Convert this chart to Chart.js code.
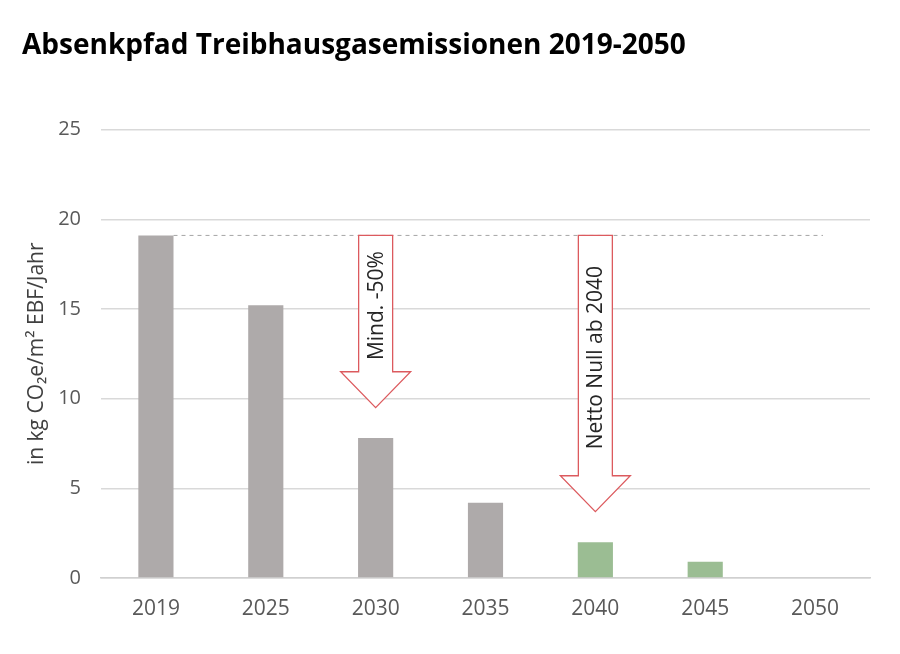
<!DOCTYPE html>
<html>
<head>
<meta charset="utf-8">
<script src="https://cdn.jsdelivr.net/npm/chart.js@4"></script>
<style>
  html, body { margin: 0; padding: 0; background: #fff; }
  #wrap { width: 900px; height: 654px; }
</style>
</head>
<body>
<div id="wrap"><canvas id="emissionsChart"></canvas></div>
<script>
// chart data
const years = ['2019', '2025', '2030', '2035', '2040', '2045', '2050'];
const emissions = [19.1, 15.2, 7.8, 4.2, 2.0, 0.9, 0];
const yTicks = [0, 5, 10, 15, 20, 25];
const baselineValue = 19.1;

// arrows: category, top, head start, tip, label
const arrowYears = ['2030', '2040'];
const arrowTops = [19.1, 19.1];
const arrowHeads = [11.5, 5.7];
const arrowTips = [9.5, 3.7];
const arrowLabels = ['Mind. -50%', 'Netto Null ab 2040'];

const GRAY = '#aeaaaa';
const GREEN = '#9bbd93';
const FONT = '"Open Sans", sans-serif';

const annotations = {
    id: 'annotations',
    afterDatasetsDraw(chart) {
        const { ctx, scales: { x, y } } = chart;
        const meta = chart.getDatasetMeta(0);
        ctx.save();

        // dashed baseline from first bar to end
        const firstBar = meta.data[0];
        ctx.strokeStyle = '#a6a6a6';
        ctx.lineWidth = 1;
        ctx.setLineDash([4, 4]);
        ctx.beginPath();
        ctx.moveTo(firstBar.x + firstBar.width / 2, y.getPixelForValue(baselineValue));
        ctx.lineTo(x.right - 47, y.getPixelForValue(baselineValue));
        ctx.stroke();
        ctx.setLineDash([]);

        // outlined arrows with vertical text
        arrowYears.forEach((yr, i) => {
            const cx = x.getPixelForValue(years.indexOf(yr));
            const shaft = 17;
            const head = 35;
            const top = y.getPixelForValue(arrowTops[i]);
            const hy = y.getPixelForValue(arrowHeads[i]);
            const tip = y.getPixelForValue(arrowTips[i]);
            ctx.beginPath();
            ctx.moveTo(cx - shaft, top);
            ctx.lineTo(cx + shaft, top);
            ctx.lineTo(cx + shaft, hy);
            ctx.lineTo(cx + head, hy);
            ctx.lineTo(cx, tip);
            ctx.lineTo(cx - head, hy);
            ctx.lineTo(cx - shaft, hy);
            ctx.closePath();
            ctx.fillStyle = '#fff';
            ctx.fill();
            ctx.strokeStyle = '#dc5a5e';
            ctx.lineWidth = 1.3;
            ctx.stroke();

            ctx.save();
            ctx.translate(cx + 1, (top + hy) / 2 + 2);
            ctx.rotate(-Math.PI / 2);
            ctx.fillStyle = '#262626';
            ctx.font = '21px ' + FONT;
            ctx.textAlign = 'center';
            ctx.textBaseline = 'middle';
            ctx.fillText(arrowLabels[i], 0, 0);
            ctx.restore();
        });
        ctx.restore();
    }
};

new Chart(document.getElementById('emissionsChart'), {
    type: 'bar',
    data: {
        labels: years,
        datasets: [{
            data: emissions,
            backgroundColor: ctx => ctx.dataIndex >= 4 ? GREEN : GRAY,
            barPercentage: 0.32,
            categoryPercentage: 1.0
        }]
    },
    options: {
        responsive: true,
        maintainAspectRatio: false,
        animation: false,
        layout: { padding: { left: 22, right: 30, bottom: 0, top: 0 } },
        plugins: {
            legend: { display: false },
            tooltip: { enabled: false },
            title: {
                display: true,
                text: 'Absenkpfad Treibhausgasemissionen 2019-2050',
                align: 'start',
                color: '#000',
                font: { family: FONT, size: 28, weight: 'bold' },
                padding: { top: 29, bottom: 67 }
            }
        },
        scales: {
            x: {
                grid: { display: false },
                border: { color: '#d0d0d0', width: 1.5 },
                ticks: { color: '#595959', font: { family: FONT, size: 21 }, padding: 10 },
                afterFit(scale) { scale.height = 76; }
            },
            y: {
                min: 0,
                max: 25,
                afterBuildTicks(scale) { scale.ticks = yTicks.map(v => ({ value: v })); },
                grid: { color: '#d9d9d9', lineWidth: 1.5, drawTicks: false },
                border: { display: false },
                ticks: { color: '#595959', font: { family: FONT, size: 20 }, padding: 20 },
                title: {
                    display: true,
                    text: 'in kg CO₂e/m² EBF/Jahr',
                    color: '#404040',
                    font: { family: FONT, size: 21 },
                    padding: { top: 2, bottom: 0 }
                },
                afterFit(scale) { scale.width = 79; }
            }
        }
    },
    plugins: [annotations]
});
</script>
</body>
</html>
